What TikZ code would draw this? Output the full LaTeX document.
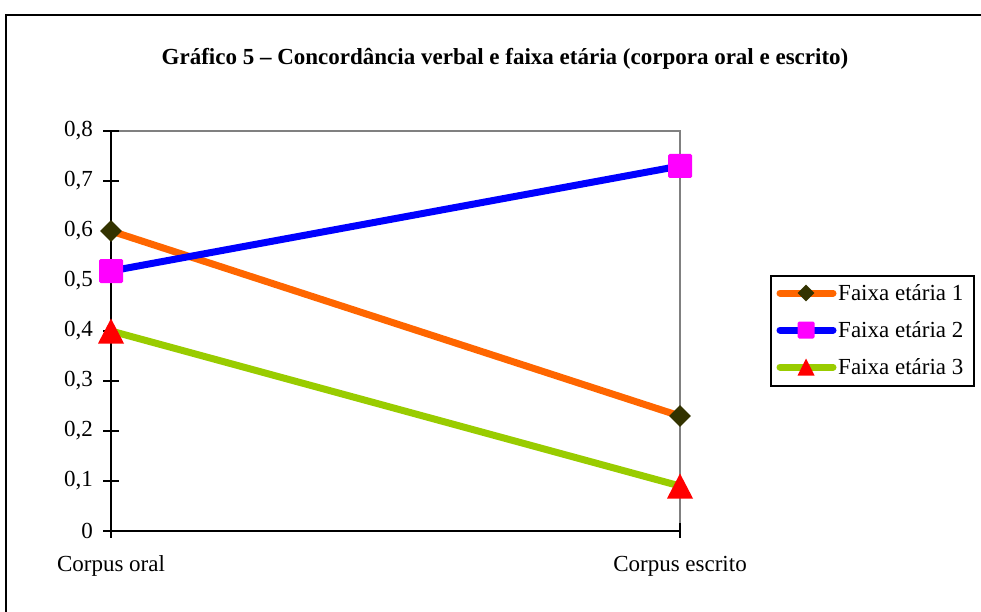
\documentclass[tikz,border=0pt]{standalone}
\usepackage{fontspec}
\setmainfont{Liberation Serif}
\usetikzlibrary{shapes.geometric}
\definecolor{sorange}{RGB}{255,102,0}
\definecolor{sblue}{RGB}{0,0,255}
\definecolor{sgreen}{RGB}{153,204,0}
\definecolor{smag}{RGB}{255,0,255}
\definecolor{sred}{RGB}{255,0,0}
\definecolor{solive}{RGB}{51,51,0}
\definecolor{sgray}{RGB}{128,128,128}
\tikzset{
  lbl/.style={inner sep=0pt, font=\fontsize{23}{27}\selectfont},
  ticklbl/.style={lbl, anchor=east},
  serie/.style={line width=7pt},
  legline/.style={line width=7pt, line cap=round},
  axisline/.style={line width=1.8pt},
  dmark/.style={shape=diamond, fill=solive, inner sep=0pt, minimum width=#1, minimum height=#1},
  smark/.style={shape=rectangle, fill=smag, inner sep=0pt, minimum size=#1, rounded corners=1.5pt},
  tmark/.pic={\fill[sred] (-13,12.5) -- (0,-12.5) -- (13,12.5) -- cycle;},
  tmarksmall/.pic={\fill[sred] (-8.5,8.5) -- (0,-8.5) -- (8.5,8.5) -- cycle;},
}
\begin{document}
\begin{tikzpicture}[x=1pt, y=-1pt]
\useasboundingbox (0,0) rectangle (981,612);
% outer frame
\draw[line width=2pt] (6,614) -- (6,15) -- (983,15);
% title
\node[inner sep=0pt, font=\fontsize{23}{27}\selectfont\bfseries] (title) at (505,59)
  {Gráfico 5 – Concordância verbal e faixa etária (corpora oral e escrito)};
% plot area border
\draw[sgray, axisline] (111,131) -- (680,131) -- (680,531);
% axes
\draw[axisline] (111,131) -- (111,538);
\draw[axisline] (104,531) -- (680,531);
\foreach \v in {0,1,...,8}{
  \draw[axisline] (103,{531-50*\v}) -- (119,{531-50*\v});
}
\draw[axisline] (111,523) -- (111,538);
\draw[axisline] (680,523) -- (680,538);
% tick labels
\node[ticklbl] (t0) at (93,531) {0};
\node[ticklbl] (t1) at (93,481) {0,1};
\node[ticklbl] (t2) at (93,431) {0,2};
\node[ticklbl] (t3) at (93,381) {0,3};
\node[ticklbl] (t4) at (93,331) {0,4};
\node[ticklbl] (t5) at (93,281) {0,5};
\node[ticklbl] (t6) at (93,231) {0,6};
\node[ticklbl] (t7) at (93,181) {0,7};
\node[ticklbl] (t8) at (93,131) {0,8};
\node[lbl] (xoral) at (111,566) {Corpus oral};
\node[lbl] (xescr) at (680,566) {Corpus escrito};
% data points
\coordinate (a1) at (111,231);
\coordinate (a2) at (680,416);
\coordinate (b1) at (111,271);
\coordinate (b2) at (680,166);
\coordinate (c1) at (111,331);
\coordinate (c2) at (680,486);
% series
\draw[serie, sorange] (a1) -- (a2);
\node[dmark=22pt] (ma1) at (a1) {};
\node[dmark=22pt] (ma2) at (a2) {};
\draw[serie, sblue] (b1) -- (b2);
\node[smark=24pt] (mb1) at (b1) {};
\node[smark=24pt] (mb2) at (b2) {};
\draw[serie, sgreen] (c1) -- (c2);
\pic at (c1) {tmark};
\pic at (c2) {tmark};
% legend
\draw[line width=1.8pt] (771,276) rectangle (974,386);
\coordinate (l1a) at (780,293); \coordinate (l1b) at (833,293);
\coordinate (l2a) at (780,330); \coordinate (l2b) at (833,330);
\coordinate (l3a) at (780,367); \coordinate (l3b) at (833,367);
\draw[legline, sorange] (l1a) -- (l1b);
\node[dmark=17pt] (lm1) at (806,293) {};
\draw[legline, sblue] (l2a) -- (l2b);
\node[smark=17pt] (lm2) at (806,330) {};
\draw[legline, sgreen] (l3a) -- (l3b);
\pic at (806,367) {tmarksmall};
\node[lbl, anchor=west] (lt1) at (838,293) {Faixa etária 1};
\node[lbl, anchor=west] (lt2) at (838,330) {Faixa etária 2};
\node[lbl, anchor=west] (lt3) at (838,367) {Faixa etária 3};
\end{tikzpicture}
\end{document}
